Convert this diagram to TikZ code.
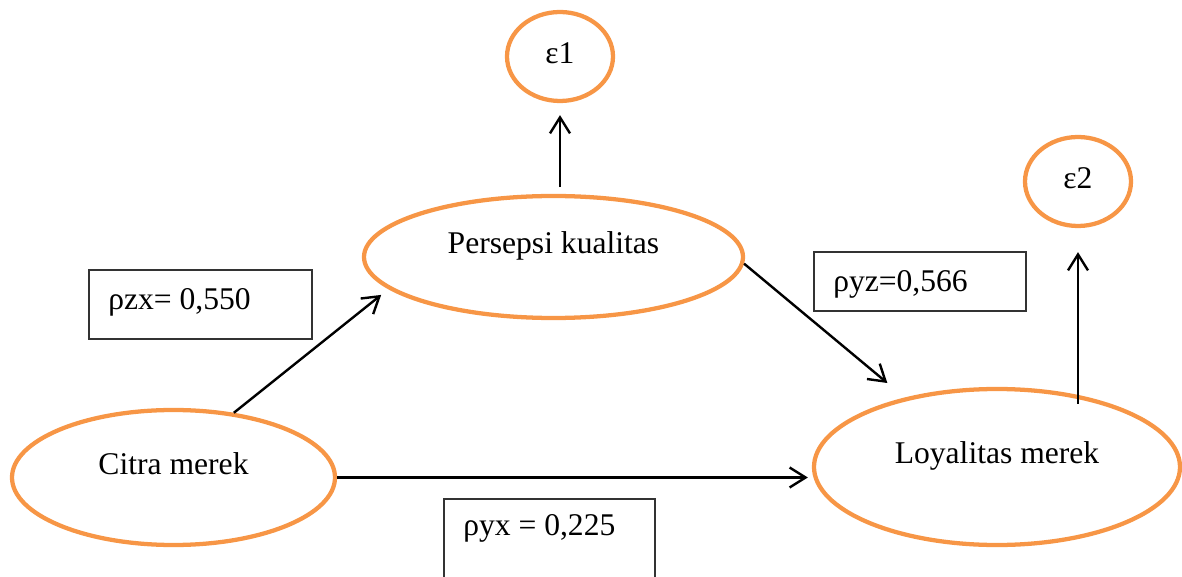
\documentclass[tikz,border=0pt]{standalone}
\usepackage{fontspec}
\setmainfont{Liberation Serif}
\usetikzlibrary{shapes.geometric,arrows.meta}
\definecolor{orangeline}{HTML}{F79646}

\begin{document}
\begin{tikzpicture}[x=0.75pt,y=-0.75pt,
  font=\fontsize{23.7}{28}\selectfont,
  var/.style={ellipse,draw=orangeline,line width=3.2pt,inner sep=0pt,text height=12pt,text depth=17.25pt},
  err/.style={ellipse,draw=orangeline,line width=3.2pt,inner sep=0pt,minimum width=79.5pt,minimum height=66.75pt,text height=12pt,text depth=2pt},
  valbox/.style={draw=black!80,line width=1.1pt},
  arr/.style={-{Straight Barb[length=12pt,width=15pt]},line width=1.8pt}]
\useasboundingbox (0,0) rectangle (1182,577);

\node[err] (eps1) at (560,56.5) {ε1};
\node[err] (eps2) at (1078,181.5) {ε2};
\node[var,minimum width=284.25pt,minimum height=91.5pt] (persepsi) at (553.5,257) {Persepsi kualitas};
\node[var,minimum width=242.25pt,minimum height=101.25pt] (citra) at (173.5,477.5) {Citra merek};
\node[var,minimum width=274.5pt,minimum height=117pt] (loyal) at (997,467) {Loyalitas merek};

\node[valbox,minimum width=167.25pt,minimum height=51.75pt] (boxzx) at (200.5,304.5) {};
\node[anchor=base west,inner sep=0pt] (valzx) at (108,310) {ρzx= 0,550};
\node[valbox,minimum width=159pt,minimum height=44.25pt] (boxyz) at (920,281.5) {};
\node[anchor=base west,inner sep=0pt] (valyz) at (833,292) {ρyz=0,566};
\node[valbox,minimum width=158.25pt,minimum height=90.75pt] (boxyx) at (549.5,559.5) {};
\node[anchor=base west,inner sep=0pt] (valyx) at (463,535) {ρyx = 0,225};

\draw[arr,shorten >=7pt] (citra.47.5) -- (persepsi.191.3);
\draw[arr,shorten >=17pt] (persepsi.-2.4) -- (loyal.143.5);
\draw[arr,shorten >=3pt] (citra.east) -- (citra.east -| loyal.west);
\draw[arr,shorten <=5pt,shorten >=9pt] (persepsi.north -| eps1.south) -- (eps1.south);
\draw[arr,shorten <=-6pt,shorten >=18pt] (loyal.40 -| eps2.south) -- (eps2.south);
\end{tikzpicture}
\end{document}
